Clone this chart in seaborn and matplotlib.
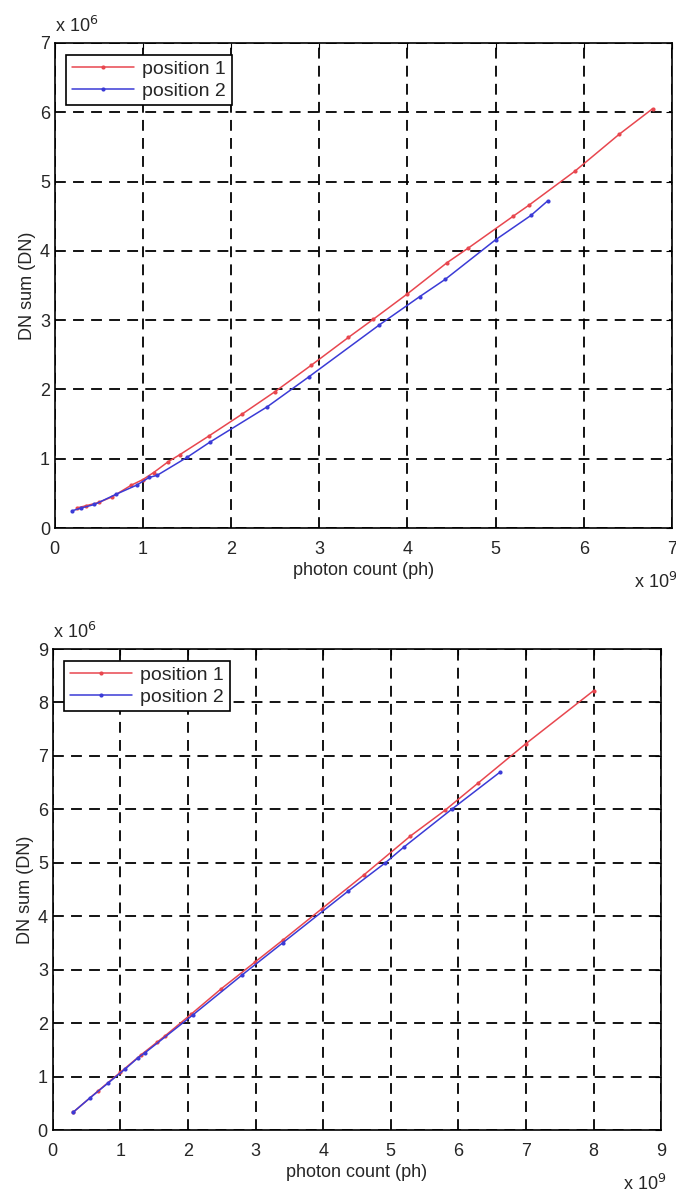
import seaborn as sns
import pandas as pd
import matplotlib.pyplot as plt

# values in units of 1e9 photons (x) and 1e6 DN (y)
top_red_x = [0.25, 0.35, 0.5, 0.65, 0.87, 1.0, 1.12, 1.29, 1.42, 1.75, 2.12, 2.5, 2.91, 3.33, 3.61, 4.0, 4.45, 4.69, 5.20, 5.38, 5.9, 6.40, 6.78]
top_red_y = [0.29, 0.32, 0.37, 0.45, 0.62, 0.70, 0.80, 0.96, 1.06, 1.33, 1.64, 1.97, 2.35, 2.75, 3.01, 3.38, 3.83, 4.04, 4.50, 4.66, 5.15, 5.68, 6.05]
top_blue_x = [0.2, 0.3, 0.45, 0.70, 0.93, 1.07, 1.16, 1.50, 1.76, 2.41, 2.88, 3.68, 4.14, 4.43, 5.0, 5.40, 5.59]
top_blue_y = [0.25, 0.29, 0.34, 0.49, 0.62, 0.73, 0.76, 1.02, 1.24, 1.75, 2.18, 2.93, 3.34, 3.59, 4.16, 4.51, 4.72]

bot_red_x = [0.30, 0.67, 1.0, 1.30, 1.54, 1.66, 2.05, 2.49, 2.99, 3.40, 3.98, 4.60, 5.29, 5.80, 6.29, 7.0, 8.0]
bot_red_y = [0.33, 0.73, 1.08, 1.40, 1.64, 1.76, 2.17, 2.64, 3.14, 3.55, 4.14, 4.77, 5.50, 5.98, 6.49, 7.23, 8.22]
bot_blue_x = [0.30, 0.55, 0.82, 1.07, 1.26, 1.36, 2.07, 2.80, 3.40, 4.37, 4.92, 5.20, 5.90, 6.62]
bot_blue_y = [0.33, 0.60, 0.88, 1.14, 1.35, 1.44, 2.15, 2.90, 3.50, 4.47, 5.00, 5.30, 6.00, 6.70]

series_names = ["position 1", "position 2"]
colors = {"position 1": "#e8474f", "position 2": "#3b3bd6"}


def makeFrame(rx, ry, bx, by):
    a = pd.DataFrame({"x": rx, "y": ry, "series": series_names[0]})
    b = pd.DataFrame({"x": bx, "y": by, "series": series_names[1]})
    return pd.concat([a, b], ignore_index=True)


def styleAxes(ax, lim):
    ax.set_xlim(0, lim)
    ax.set_ylim(0, lim)
    ax.set_xticks(range(lim + 1))
    ax.set_yticks(range(lim + 1))
    ax.grid(True, color="black", linestyle=(0, (6, 4)), linewidth=1.3)
    ax.tick_params(direction="in", top=True, right=True, labelsize=13, length=4, color="black")
    ax.tick_params(axis="x", pad=9)
    for s in ax.spines.values():
        s.set_color("black")
        s.set_linewidth(1.2)
    ax.set_xlabel("photon count (ph)", fontsize=13, labelpad=3)
    ax.set_ylabel("DN sum (DN)", fontsize=13, labelpad=3)
    leg = ax.legend(loc="upper left", fontsize=14, frameon=True, fancybox=False, framealpha=1,
                    handlelength=3.2, handletextpad=0.4, borderaxespad=0.6, labelspacing=0.2,
                    borderpad=0.3)
    leg.get_frame().set_edgecolor("black")
    leg.get_frame().set_linewidth(1.2)
    ax.text(0.0, 1.015, "x 10$^{6}$", transform=ax.transAxes, fontsize=13, ha="left", va="bottom")
    ax.text(1.008, -0.112, "x 10$^{9}$", transform=ax.transAxes, fontsize=13, ha="right", va="center")


def plotData():
    sns.set_style("white")
    plt.rcParams["font.family"] = ["Liberation Sans", "DejaVu Sans"]
    fig = plt.figure(figsize=(6.76, 11.92), dpi=100)
    ax1 = fig.add_axes([0.081, 0.557, 0.913, 0.407])
    ax2 = fig.add_axes([0.078, 0.052, 0.900, 0.4035])

    top = makeFrame(top_red_x, top_red_y, top_blue_x, top_blue_y)
    bot = makeFrame(bot_red_x, bot_red_y, bot_blue_x, bot_blue_y)

    for ax, df, lim in [(ax1, top, 7), (ax2, bot, 9)]:
        sns.lineplot(data=df, x="x", y="y", hue="series", palette=colors, sort=False,
                     marker=".", markersize=6, markeredgewidth=0, linewidth=1.1, ax=ax)
        styleAxes(ax, lim)

    fig.savefig("out.png", dpi=100)


def main():
    plotData()


if __name__ == "__main__":
    main()
